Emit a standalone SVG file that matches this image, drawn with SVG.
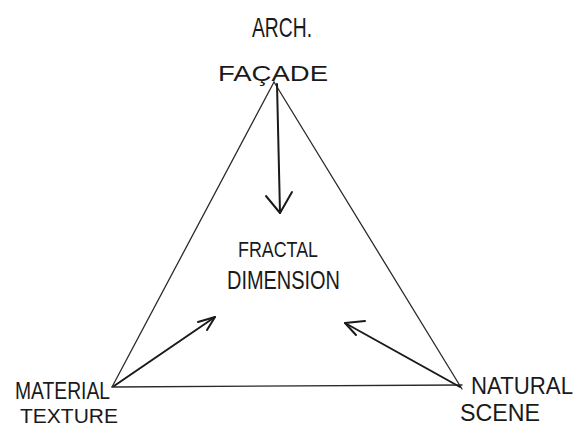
<svg xmlns="http://www.w3.org/2000/svg" width="579" height="428" viewBox="0 0 579 428">
<style>
.lbl{font-family:"Liberation Sans","DejaVu Sans",sans-serif;fill:#1a1a1a;}
.edge{stroke:#2a2a2a;stroke-width:1.3;fill:none;stroke-linecap:round;stroke-linejoin:round;}
.arrow{stroke:#1a1a1a;stroke-width:2;fill:none;stroke-linecap:round;stroke-linejoin:round;}
</style>
<rect width="579" height="428" fill="#ffffff"/>
<g id="connectors">
  <path class="edge" d="M274 82 L112 387"/>
  <path class="edge" d="M274 82 L462 389"/>
  <path class="edge" d="M112 387 L462 385"/>
  <path class="arrow" d="M277 84 L280 213"/>
  <path class="arrow" d="M266 196 L280 213 L292 192"/>
  <path class="arrow" d="M114 386 L215 317"/>
  <path class="arrow" d="M198 322 L215 317 L207 330"/>
  <path class="arrow" d="M460 387 L345 323"/>
  <path class="arrow" d="M365 321 L345 323 L356 335"/>
</g>
<g id="arch-facade">
  <text class="lbl" x="252" y="37" font-size="28" textLength="60" lengthAdjust="spacingAndGlyphs">ARCH.</text>
  <text class="lbl" x="218" y="81" font-size="22" textLength="110" lengthAdjust="spacingAndGlyphs">FAÇADE</text>
</g>
<g id="fractal-dimension">
  <text class="lbl" x="238" y="257" font-size="22" textLength="80" lengthAdjust="spacingAndGlyphs">FRACTAL</text>
  <text class="lbl" x="227" y="289" font-size="25" textLength="113" lengthAdjust="spacingAndGlyphs">DIMENSION</text>
</g>
<g id="material-texture">
  <text class="lbl" x="15" y="399" font-size="24" textLength="95" lengthAdjust="spacingAndGlyphs">MATERIAL</text>
  <text class="lbl" x="20" y="423" font-size="20" textLength="98" lengthAdjust="spacingAndGlyphs">TEXTURE</text>
</g>
<g id="natural-scene">
  <text class="lbl" x="471" y="394" font-size="23" textLength="102" lengthAdjust="spacingAndGlyphs">NATURAL</text>
  <text class="lbl" x="460" y="421" font-size="24" textLength="80" lengthAdjust="spacingAndGlyphs">SCENE</text>
</g>
</svg>
